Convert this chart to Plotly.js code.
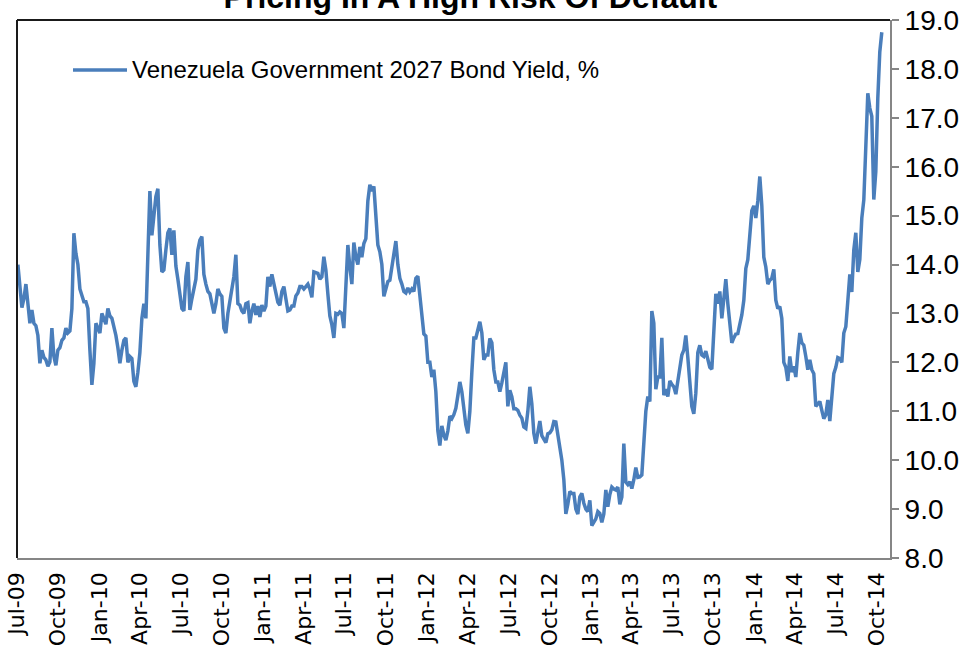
<!DOCTYPE html>
<html>
<head>
<meta charset="utf-8">
<script src="https://cdn.plot.ly/plotly-3.0.1.min.js"></script>
<style>
  html, body { margin: 0; padding: 0; background: #ffffff; }
  #chart { width: 966px; height: 649px; }
</style>
</head>
<body>
<div id="chart"></div>
<script>
// ---- Data ----
const seriesName = 'Venezuela Government 2027 Bond Yield, %';
const chartTitle = 'Pricing In A High Risk Of Default';
const firstDate = Date.UTC(2009, 6, 3);   // first observation
const sampleDays = 4.46;                  // spacing of the readings, days
const yields = [
  14.0, 13.55, 13.12, 13.3, 13.6, 13.2, 12.8, 13.07, 12.8, 12.75,
  12.55, 11.98, 12.25, 12.1, 12.05, 11.92, 12.01, 12.7, 12.12, 11.94,
  12.25, 12.3, 12.45, 12.5, 12.7, 12.6, 12.64, 13.1, 14.64, 14.23,
  14.0, 13.5, 13.35, 13.24, 13.24, 13.1, 12.25, 11.54, 11.98, 12.8,
  12.7, 12.6, 13.0, 12.9, 12.78, 13.1, 12.95, 12.9, 12.75, 12.55,
  12.3, 11.98, 12.25, 12.45, 12.5, 12.0, 12.12, 12.08, 11.61, 11.5,
  11.8, 12.2, 12.9, 13.2, 12.9, 14.1, 15.5, 14.6, 15.0, 15.39,
  15.55, 14.4, 13.85, 13.89, 14.3, 14.65, 14.74, 14.2, 14.7, 13.97,
  13.7, 13.35, 13.1, 13.05, 13.75, 14.05, 13.07, 13.3, 13.55, 13.7,
  14.3, 14.5, 14.57, 13.8, 13.6, 13.45, 13.4, 13.15, 13.0, 13.2,
  13.5, 13.4, 13.35, 12.7, 12.6, 13.0, 13.25, 13.6, 13.75, 14.2,
  13.2, 13.17, 13.05, 13.0, 13.2, 13.22, 12.8, 13.05, 13.2, 12.97,
  13.15, 12.93, 13.17, 13.05, 13.15, 13.75, 13.55, 13.8, 13.6, 13.42,
  13.23, 13.17, 13.45, 13.55, 13.3, 13.05, 13.07, 13.15, 13.15, 13.36,
  13.42, 13.55, 13.55, 13.5, 13.55, 13.6, 13.5, 13.33, 13.85, 13.83,
  13.82, 13.7, 13.75, 14.16, 13.89, 13.4, 12.95, 12.77, 12.5, 13.0,
  12.98, 13.03, 13.0, 12.7, 13.5, 14.4, 13.95, 13.6, 14.45, 14.16,
  14.0, 14.36, 14.15, 14.43, 14.53, 15.3, 15.63, 15.5, 15.6, 15.0,
  14.4, 14.26, 14.0, 13.35, 13.5, 13.65, 13.68, 13.97, 14.2, 14.48,
  14.0, 13.72, 13.6, 13.45, 13.42, 13.52, 13.44, 13.5, 13.45, 13.72,
  13.76, 13.34, 12.95, 12.58, 12.54, 12.0, 12.0, 11.7, 11.85, 11.4,
  10.6, 10.3, 10.7, 10.51, 10.41, 10.6, 10.9, 10.85, 10.93, 11.06,
  11.32, 11.6, 11.4, 11.09, 10.72, 10.55, 11.0, 11.8, 12.5, 12.5,
  12.67, 12.83, 12.6, 12.05, 12.15, 12.15, 12.49, 12.4, 11.85, 11.6,
  11.6, 11.4, 11.58, 11.8, 12.0, 11.1, 11.43, 11.3, 11.05, 11.05,
  11.02, 10.92, 10.86, 10.68, 10.65, 11.0, 11.5, 11.15, 10.55, 10.34,
  10.6, 10.8, 10.5, 10.41, 10.36, 10.54, 10.56, 10.62, 10.79, 10.78,
  10.55, 10.3, 10.0, 9.6, 8.9, 9.1, 9.36, 9.32, 9.32, 9.0,
  8.9, 9.25, 9.32, 9.12, 9.0, 8.95, 9.18, 8.66, 8.75, 8.8,
  8.95, 8.91, 8.73, 8.9, 9.39, 9.05, 9.3, 9.45, 9.41, 9.39,
  9.45, 9.1, 9.25, 10.34, 9.55, 9.5, 9.56, 9.42, 9.6, 9.85,
  9.65, 9.66, 9.7, 10.5, 11.0, 11.3, 11.2, 13.05, 12.8, 11.45,
  11.7, 11.7, 12.5, 11.33, 11.45, 11.3, 11.62, 11.55, 11.5, 11.35,
  11.6, 11.86, 12.15, 12.25, 12.55, 12.1, 11.5, 11.1, 10.95, 11.37,
  12.2, 12.35, 12.15, 12.12, 12.23, 12.05, 11.9, 11.86, 12.5, 13.4,
  13.2, 13.45, 12.9, 13.41, 13.7, 13.2, 12.75, 12.4, 12.5, 12.58,
  12.59, 12.75, 12.97, 13.27, 13.92, 14.1, 14.68, 15.1, 15.2, 14.95,
  15.3, 15.8, 15.2, 14.15, 13.95, 13.6, 13.68, 13.72, 13.9, 13.27,
  13.1, 13.14, 12.9, 12.0, 11.9, 11.62, 12.12, 11.8, 11.92, 11.7,
  12.2, 12.6, 12.4, 12.35, 12.12, 11.85, 12.05, 11.85, 11.77, 11.1,
  11.15, 11.2, 11.02, 10.85, 10.93, 11.23, 10.8, 11.2, 11.77, 11.9,
  12.1, 12.08, 12.0, 12.6, 12.73, 13.25, 13.8, 13.44, 14.3, 14.65,
  13.85, 14.1, 14.95, 15.32, 16.4, 17.5, 17.2, 17.03, 15.33, 15.9,
  17.4, 18.35, 18.75
];
const dayMs = 86400000;
const dates = yields.map((_, i) => {
  const d = new Date(firstDate + i * sampleDays * dayMs).toISOString();
  return d.slice(0, 10) + ' ' + d.slice(11, 19);
});
const xRange = ['2009-07-01', '2014-10-30'];
const yRange = [8, 19];

// ---- Chart ----
const trace = {
  type: 'scatter',
  mode: 'lines',
  x: dates,
  y: yields,
  name: seriesName,
  line: { color: '#4a7ebb', width: 3.5 },
  showlegend: false,
  hoverinfo: 'x+y'
};

const L = 17, R = 76, T = 20, B = 91, W = 966, H = 649;
const plotW = W - L - R, plotH = H - T - B;
const px2x = p => (p - L) / plotW;
const px2y = p => 1 - (p - T) / plotH;

const layout = {
  width: W,
  height: H,
  margin: { l: L, r: R, t: T, b: B, pad: 0 },
  paper_bgcolor: '#ffffff',
  plot_bgcolor: '#ffffff',
  showlegend: false,
  title: {
    text: '<b>' + chartTitle + '</b>',
    font: { family: 'Liberation Sans, Arial, sans-serif', size: 32, color: '#000000' },
    x: 0.487, xref: 'container', xanchor: 'center',
    y: 1 - 8 / H, yref: 'container', yanchor: 'bottom'
  },
  xaxis: {
    type: 'date',
    range: xRange,
    tick0: '2009-07-01',
    dtick: 'M3',
    tickformat: '%b-%y',
    tickangle: -90,
    ticks: '',
    ticklabelstandoff: 4,
    showgrid: false,
    zeroline: false,
    showline: true,
    linecolor: '#868686',
    linewidth: 1.5,
    tickfont: { family: 'DejaVu Sans, Verdana, sans-serif', size: 22, color: '#000000' },
    fixedrange: true
  },
  yaxis: {
    side: 'right',
    range: yRange,
    dtick: 1,
    tick0: 8,
    tickformat: '.1f',
    ticks: 'outside',
    ticklen: 7,
    tickwidth: 2,
    tickcolor: '#868686',
    showgrid: false,
    zeroline: false,
    showline: true,
    linecolor: '#868686',
    linewidth: 2,
    tickfont: { family: 'Liberation Sans, Arial, sans-serif', size: 28, color: '#000000' },
    fixedrange: true
  },
  shapes: [
    // plot-area frame: top and left edges
    { type: 'line', xref: 'paper', yref: 'paper', x0: 0, x1: 1, y0: 1, y1: 1, line: { color: '#1a1a1a', width: 2 } },
    { type: 'line', xref: 'paper', yref: 'paper', x0: 0, x1: 0, y0: 0, y1: 1, line: { color: '#1a1a1a', width: 2 } },
    // legend key
    { type: 'line', xref: 'paper', yref: 'paper', x0: px2x(73), x1: px2x(127), y0: px2y(70), y1: px2y(70), line: { color: '#4a7ebb', width: 3.5 } }
  ],
  annotations: [
    {
      text: seriesName,
      xref: 'paper', yref: 'paper',
      x: px2x(130), y: px2y(70),
      xanchor: 'left', yanchor: 'middle',
      showarrow: false,
      font: { family: 'Liberation Sans, Arial, sans-serif', size: 24, color: '#000000' }
    }
  ]
};

Plotly.newPlot('chart', [trace], layout, { displayModeBar: false, staticPlot: true });
</script>
</body>
</html>
